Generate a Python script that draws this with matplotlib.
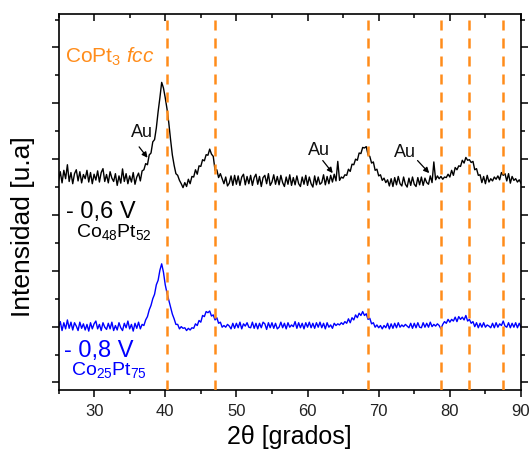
import numpy as np
import matplotlib
matplotlib.use("Agg")
import matplotlib.pyplot as plt
from matplotlib.ticker import MultipleLocator

plt.rcParams['font.family'] = ['Liberation Sans', 'DejaVu Sans']
plt.rcParams['mathtext.fontset'] = 'custom'
plt.rcParams['mathtext.rm'] = 'Liberation Sans'
plt.rcParams['mathtext.it'] = 'Liberation Sans:italic'

# 2-theta sampling grid (degrees)
two_theta = np.arange(25.0, 90.0 + 0.125, 0.25)

# Diffractogram of the film deposited at -0.6 V (Co48Pt52), offset upward
intensity_06V = [
    7.22, 7.55, 7.15, 7.60,  7.30, 7.80, 7.20, 7.52,  7.12, 7.48, 7.62, 7.22,
    7.55, 7.15, 7.45, 7.30,  7.60, 7.18, 7.52, 7.12,  7.46, 7.25, 7.58, 7.18,
    7.52, 7.66, 7.20, 7.45,  7.15, 7.55, 7.32, 7.20,  7.48, 7.06, 7.40, 7.14,
    7.65, 7.20, 7.48, 7.12,  7.40, 7.18, 7.52, 7.10,  7.36, 7.50, 7.22, 7.58,
    7.62, 7.84, 7.80, 8.15,  8.22, 8.62, 8.70, 9.12,  9.70, 10.20, 10.75, 10.55,
    10.20, 9.80, 9.30, 8.70, 8.15, 7.78, 7.48, 7.42,  7.24, 7.12, 6.98, 7.16,
    7.02, 7.28, 7.12, 7.38,  7.36, 7.62, 7.46, 7.76,  7.74, 7.98, 7.94, 8.16,
    8.14, 8.36, 8.18, 8.10,  7.60, 7.62, 7.34, 7.48,  7.30, 7.12, 7.36, 7.04,
    7.14, 7.40, 7.06, 7.42,  7.10, 7.40, 7.06, 7.36,  7.46, 7.08, 7.38, 7.12,
    7.42, 7.06, 7.34, 7.46,  7.10, 7.38, 7.02, 7.34,  7.42, 7.12, 7.48, 7.06,
    7.18, 7.44, 7.10, 7.38,  7.08, 7.42, 7.16, 7.02,  7.36, 7.10, 7.44, 7.06,
    7.34, 7.08, 7.40, 7.12,  7.02, 7.36, 7.10, 7.42,  7.06, 7.36, 7.12, 7.00,
    7.40, 7.08, 7.36, 7.10,  7.16, 7.44, 7.08, 7.38,  7.12, 7.42, 7.18, 7.46,
    7.22, 7.92, 7.24, 7.36,  7.32, 7.44, 7.42, 7.64,  7.56, 7.82, 7.80, 8.00,
    7.96, 8.22, 8.20, 8.42,  8.40, 8.45, 8.16, 8.10,  7.86, 7.90, 7.60, 7.64,
    7.40, 7.44, 7.24, 7.32,  7.16, 7.26, 7.04, 7.30,  7.02, 7.34, 7.08, 7.38,
    7.12, 7.04, 7.36, 7.10,  7.00, 7.32, 7.06, 7.36,  7.10, 7.02, 7.34, 7.08,
    7.36, 7.06, 7.32, 7.16,  7.10, 7.40, 7.16, 7.90,  7.26, 7.40, 7.30, 7.38,
    7.28, 7.36, 7.34, 7.46,  7.36, 7.60, 7.42, 7.70,  7.62, 7.76, 7.74, 7.96,
    7.86, 8.06, 7.96, 7.98,  7.88, 7.92, 7.62, 7.66,  7.42, 7.44, 7.16, 7.38,
    7.12, 7.42, 7.18, 7.30,  7.22, 7.36, 7.28, 7.40,  7.26, 7.52, 7.42, 7.48,
    7.22, 7.48, 7.14, 7.38,  7.24, 7.30, 7.18, 7.26,  7.14,
]

# Diffractogram of the film deposited at -0.8 V (Co25Pt75)
intensity_08V = [
    1.96, 2.18, 1.86, 2.14,  1.92, 2.24, 1.94, 2.16,  1.88, 2.14, 2.02, 1.86,
    2.16, 1.94, 2.10, 1.88,  2.08, 1.84, 2.14, 1.92,  2.10, 2.20, 1.92, 2.08,
    1.86, 2.14, 1.98, 1.90,  2.12, 1.92, 2.16, 1.86,  2.04, 1.88, 2.14, 1.96,
    1.86, 2.12, 1.96, 2.20,  1.92, 2.08, 1.84, 2.12,  1.94, 2.16, 1.92, 2.08,
    2.04, 2.24, 2.36, 2.60,  2.76, 3.00, 3.16, 3.50,  3.66, 4.02, 4.25, 3.95,
    3.50, 3.20, 2.95, 2.70,  2.45, 2.28, 2.08, 2.08,  1.92, 2.00, 1.94, 1.96,
    1.86, 1.94, 1.88, 1.96,  1.94, 2.10, 2.04, 2.22,  2.16, 2.40, 2.36, 2.54,
    2.50, 2.56, 2.38, 2.42,  2.24, 2.32, 2.12, 2.16,  1.98, 2.04, 1.98, 2.08,
    2.02, 1.92, 2.12, 1.94,  2.12, 1.96, 2.16, 1.92,  2.10, 2.02, 2.14, 1.98,
    1.96, 2.16, 1.94, 2.12,  1.92, 2.12, 1.96, 2.16,  2.10, 1.90, 2.14, 1.96,
    2.14, 1.94, 2.12, 1.92,  1.98, 2.16, 1.96, 2.12,  1.92, 2.14, 1.98, 2.06,
    2.00, 2.18, 1.94, 2.14,  1.96, 2.12, 1.92, 2.14,  1.98, 2.16, 1.96, 2.12,
    1.94, 2.14, 1.98, 2.16,  1.96, 2.12, 1.92, 2.14,  1.98, 2.06, 1.94, 2.12,
    2.04, 2.10, 2.06, 2.14,  2.08, 2.18, 2.12, 2.28,  2.14, 2.32, 2.24, 2.42,
    2.32, 2.48, 2.40, 2.54,  2.40, 2.46, 2.26, 2.30,  2.10, 2.14, 1.98, 2.06,
    1.96, 2.04, 1.92, 2.04,  1.96, 2.12, 1.92, 2.10,  1.94, 2.12, 1.96, 2.14,
    1.98, 2.06, 2.00, 2.08,  2.02, 1.96, 2.12, 1.94,  2.12, 1.96, 2.14, 1.98,
    1.96, 2.14, 1.98, 2.12,  1.98, 2.16, 2.00, 2.08,  2.02, 2.10, 2.04, 1.92,
    2.08, 2.18, 2.12, 2.26,  2.16, 2.26, 2.20, 2.34,  2.18, 2.36, 2.26, 2.34,
    2.24, 2.40, 2.20, 2.26,  2.12, 2.18, 2.00, 2.14,  1.96, 2.12, 1.98, 2.14,
    1.98, 2.06, 2.02, 1.96,  2.12, 1.96, 2.14, 1.98,  2.10, 2.04, 2.20, 2.02,
    1.98, 2.14, 1.96, 2.12,  1.98, 2.14, 1.96, 2.12,  1.98,
]

# Reference reflections of fcc CoPt3 (2-theta, degrees)
copt3_peaks = [40.3, 47.0, 68.5, 78.7, 82.65, 87.4]

# Au substrate reflections: (label position, arrow tail, arrow tip)
au_labels = [
    ((36.71, 8.94), (36.33, 8.44), (37.51, 8.05)),
    ((61.54, 8.30), (62.14, 7.95), (63.54, 7.50)),
    ((73.74, 8.23), (75.46, 7.95), (77.10, 7.50)),
]

ORANGE = '#ff8c1a'
BLUE = '#0000ff'

fig = plt.figure(figsize=(5.29, 4.5), dpi=100)
ax = fig.add_axes([58.5 / 529, 1 - 390 / 450, (521 - 58.5) / 529, (390 - 14) / 450])

ax.plot(two_theta, intensity_06V, color='black', lw=1.0, zorder=2)
ax.plot(two_theta, intensity_08V, color=BLUE, lw=1.0, zorder=2)

for p in copt3_peaks:
    ax.axvline(p, color=ORANGE, lw=1.8, linestyle=(0, (4, 3.2)), zorder=3)

for (tx, ty), tail, tip in au_labels:
    ax.text(tx, ty, 'Au', fontsize=13, ha='center', va='center', color='#111111')
    ax.annotate('', xy=tip, xytext=tail,
                arrowprops=dict(arrowstyle='-|>', color='black', lw=0.9,
                                mutation_scale=8, shrinkA=0, shrinkB=0))

ax.text(25.9, 11.67, r'CoPt$_3$ $\mathit{fcc}$', fontsize=15, color=ORANGE,
        ha='left', va='center')
ax.text(26.05, 5.89, '- 0,6 V', fontsize=17, color='black', ha='left', va='baseline')
ax.text(27.45, 5.22, r'Co$_{48}$Pt$_{52}$', fontsize=14, color='black',
        ha='left', va='baseline')
ax.text(25.8, 0.91, '- 0,8 V', fontsize=17, color=BLUE, ha='left', va='baseline')
ax.text(26.75, 0.27, r'Co$_{25}$Pt$_{75}$', fontsize=14, color=BLUE,
        ha='left', va='baseline')

ax.set_xlim(25, 90)
ax.set_ylim(-0.27, 13.2)

ax.xaxis.set_major_locator(MultipleLocator(10))
ax.xaxis.set_minor_locator(MultipleLocator(5))
ax.yaxis.set_major_locator(MultipleLocator(2))
ax.yaxis.set_minor_locator(MultipleLocator(1))

ax.tick_params(axis='both', which='major', length=5, width=1.1, labelsize=12,
               labelcolor='#222222', pad=5)
ax.tick_params(axis='both', which='minor', length=3, width=1.1)
ax.tick_params(axis='x', which='both', bottom=True, top=True, direction='out')
ax.tick_params(axis='y', which='both', left=True, right=True, labelleft=False,
               direction='out')
# top and right ticks point inward
for t in ax.xaxis.get_major_ticks() + ax.xaxis.get_minor_ticks():
    t.tick2line.set_marker(3)
for t in ax.yaxis.get_major_ticks() + ax.yaxis.get_minor_ticks():
    t.tick2line.set_marker(1)
ax.tick_params(axis='x', which='both', top=True, labeltop=False)

for s in ax.spines.values():
    s.set_linewidth(1.2)

fig.text(289 / 529, 1 - 437 / 450, '2θ [grados]', fontsize=18,
         ha='center', va='center')
fig.text(23 / 529, 1 - 227 / 450, 'Intensidad [u.a]', fontsize=19,
         rotation=90, ha='center', va='center')

fig.savefig('out.png', dpi=100)
